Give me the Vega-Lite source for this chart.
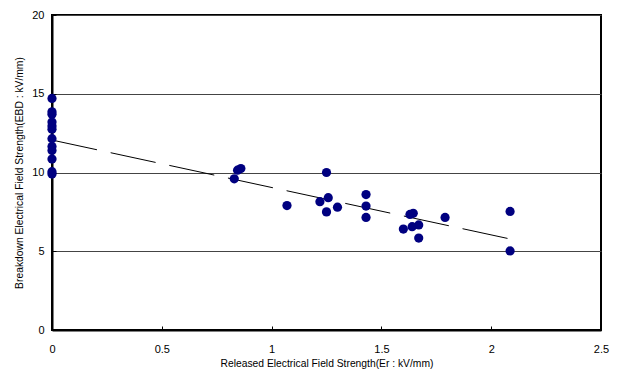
{
  "$schema": "https://vega.github.io/schema/vega-lite/v6.json",
  "width": 549,
  "height": 315,
  "autosize": "none",
  "padding": {"left": 52, "top": 15, "right": 19, "bottom": 39},
  "background": "white",
  "config": {
    "view": {"stroke": "black", "strokeWidth": 2},
    "font": "Liberation Sans",
    "axis": {
      "labelFont": "Liberation Sans",
      "titleFont": "Liberation Sans",
      "labelFontSize": 11,
      "titleFontSize": 10.3,
      "titleFontWeight": "normal",
      "labelColor": "black",
      "titleColor": "black",
      "domainColor": "black",
      "domainWidth": 2,
      "tickColor": "black",
      "tickSize": 4,
      "tickWidth": 1
    }
  },
  "datasets": {
    "pts": [
      {"er": 0, "ebd": 14.7},
      {"er": 0, "ebd": 13.85},
      {"er": 0, "ebd": 13.7},
      {"er": 0, "ebd": 13.2},
      {"er": 0, "ebd": 12.95},
      {"er": 0, "ebd": 12.75},
      {"er": 0, "ebd": 12.15},
      {"er": 0, "ebd": 11.65},
      {"er": 0, "ebd": 11.4},
      {"er": 0, "ebd": 10.85},
      {"er": 0, "ebd": 10.05},
      {"er": 0, "ebd": 9.9},
      {"er": 0.83, "ebd": 9.6},
      {"er": 0.845, "ebd": 10.15},
      {"er": 0.86, "ebd": 10.25},
      {"er": 1.07, "ebd": 7.9},
      {"er": 1.22, "ebd": 8.15},
      {"er": 1.25, "ebd": 10.0},
      {"er": 1.258, "ebd": 8.4},
      {"er": 1.25, "ebd": 7.5},
      {"er": 1.3, "ebd": 7.8},
      {"er": 1.43, "ebd": 8.6},
      {"er": 1.43, "ebd": 7.87},
      {"er": 1.43, "ebd": 7.15},
      {"er": 1.6, "ebd": 6.41},
      {"er": 1.63, "ebd": 7.34},
      {"er": 1.645, "ebd": 7.41},
      {"er": 1.64, "ebd": 6.56},
      {"er": 1.67, "ebd": 6.67},
      {"er": 1.67, "ebd": 5.84},
      {"er": 1.79, "ebd": 7.15},
      {"er": 2.086, "ebd": 7.53},
      {"er": 2.086, "ebd": 5.02}
    ],
    "trend": [
      {"er": 0, "ebd": 12.06},
      {"er": 2.086, "ebd": 5.78}
    ]
  },
  "layer": [
    {
      "data": {"name": "trend"},
      "mark": {"type": "line", "color": "black", "strokeWidth": 1, "strokeDash": [46, 14], "clip": false},
      "encoding": {
        "x": {"field": "er", "type": "quantitative",
              "scale": {"domain": [0, 2.5], "nice": false, "zero": true},
              "axis": {"title": "Released Electrical Field Strength(Er : kV/mm)", "values": [0, 0.5, 1, 1.5, 2, 2.5], "grid": false, "tickSize": -4, "labelPadding": 17, "titlePadding": 4, "labelFlush": false, "format": "~g"}},
        "y": {"field": "ebd", "type": "quantitative",
              "scale": {"domain": [0, 20], "nice": false},
              "axis": {"title": "Breakdown Electrical Field Strength(EBD : kV/mm)", "values": [0, 5, 10, 15, 20], "grid": true, "gridColor": "#444444", "gridWidth": 1, "gridOpacity": 1, "tickSize": -4, "labelPadding": 12, "titlePadding": 7, "labelFlush": false}}
      }
    },
    {
      "data": {"name": "pts"},
      "mark": {"type": "point", "shape": "circle", "filled": true, "color": "#000080", "opacity": 1, "size": 85, "clip": false},
      "encoding": {
        "x": {"field": "er", "type": "quantitative"},
        "y": {"field": "ebd", "type": "quantitative"}
      }
    }
  ]
}
